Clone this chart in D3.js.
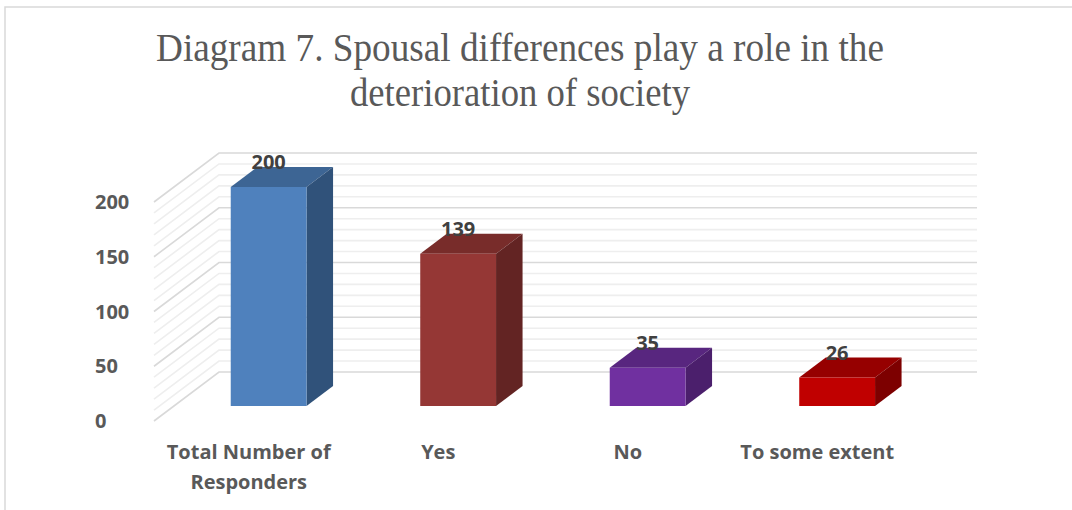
<!DOCTYPE html>
<html>
<head>
<meta charset="utf-8">
<script src="https://cdn.jsdelivr.net/npm/d3@7"></script>
<style>
  html, body { margin: 0; padding: 0; background: #ffffff; }
  svg { display: block; }
</style>
</head>
<body>
<svg id="chart" width="1072" height="510"></svg>
<script>
// Survey answers: does spousal difference play a role in the deterioration of society?
const categories = ["Total Number of Responders", "Yes", "No", "To some extent"];
const categoryLines = [["Total Number of", "Responders"], ["Yes"], ["No"], ["To some extent"]];
const values = [200, 139, 35, 26];
const yTicks = [0, 50, 100, 150, 200];
const minorStep = 10;
const frontColors = ["#4f81bd", "#953735", "#7030a0", "#c00000"];
const topColors   = ["#3d6594", "#782c2a", "#58267f", "#960000"];
const sideColors  = ["#30527a", "#632423", "#4b1f6c", "#7d0000"];
const titleLines = ["Diagram 7. Spousal differences play a role in the", "deterioration of society"];
const titleWidths = [728, 340];

const svg = d3.select("#chart");
const sans = "'Open Sans', Lato, sans-serif";

// Oblique 3D projection: x on the front plane, value, depth t in [0,1]
const depthDX = 65, depthDY = -49;
const x = d3.scaleBand().domain(categories).range([154, 912]).paddingInner(0.6).paddingOuter(0.3);
const y = d3.scaleLinear().domain([0, 200]).range([421, 202]);
const proj = (px, v, t) => [px + depthDX * t, y(v) + depthDY * t];

// Outer frame
svg.append("path").attr("d", "M5,510 V7 H1072")
  .attr("fill", "none").attr("stroke", "#d9d9d9").attr("stroke-width", 1.5);

// Title (tall, narrow serif)
svg.append("g").selectAll("text").data(titleLines).join("text")
  .attr("x", 520).attr("y", (d, i) => 61 + i * 45)
  .attr("text-anchor", "middle")
  .attr("font-family", "'Liberation Serif', 'Times New Roman', serif")
  .attr("font-size", 39)
  .attr("fill", "#595959")
  .attr("textLength", (d, i) => titleWidths[i])
  .attr("lengthAdjust", "spacingAndGlyphs")
  .text(d => d);

// Gridlines on the back wall and the left side wall
const gridVals = d3.range(0, 200 + minorStep, minorStep);
const isMajor = v => v % 50 === 0;
const grid = svg.append("g");
const x0 = x.range()[0], x1 = x.range()[1];
gridVals.filter(v => !isMajor(v)).concat(gridVals.filter(isMajor)).forEach(v => {
  const col = isMajor(v) ? "#d9d9d9" : "#eeeeee";
  const [bx0, by] = proj(x0, v, 1);
  const [bx1] = proj(x1, v, 1);
  const [fx, fy] = proj(x0, v, 0);
  grid.append("path")
    .attr("d", `M${fx},${fy} L${bx0},${by} L${bx1},${by}`)
    .attr("fill", "none").attr("stroke", col).attr("stroke-width", 1.6);
});

// Y axis labels on the front plane
svg.append("g").selectAll("text").data(yTicks).join("text")
  .attr("x", 95).attr("y", d => y(d)).attr("dy", "0.36em")
  .attr("font-family", sans)
  .attr("font-weight", "bold").attr("font-size", 20)
  .attr("fill", "#595959")
  .text(d => d);

// Bars as boxes
const tFront = 0.306, tBack = 0.714;
const bars = svg.append("g");
categories.forEach((c, i) => {
  const v = values[i];
  const L = x(c), R = x(c) + x.bandwidth();
  const pt = (px, val, t) => proj(px, val, t).join(",");
  // top face
  bars.append("polygon")
    .attr("points", [pt(L, v, tFront), pt(R, v, tFront), pt(R, v, tBack), pt(L, v, tBack)].join(" "))
    .attr("fill", topColors[i]);
  // side face
  bars.append("polygon")
    .attr("points", [pt(R, 0, tFront), pt(R, v, tFront), pt(R, v, tBack), pt(R, 0, tBack)].join(" "))
    .attr("fill", sideColors[i]);
  // front face
  bars.append("polygon")
    .attr("points", [pt(L, 0, tFront), pt(R, 0, tFront), pt(R, v, tFront), pt(L, v, tFront)].join(" "))
    .attr("fill", frontColors[i]);
  // value label
  const [lx] = proj((L + R) / 2, v, tFront);
  const [, ly] = proj(L, v, tBack);
  bars.append("text")
    .attr("x", lx).attr("y", ly + 2)
    .attr("text-anchor", "middle")
    .attr("font-family", sans)
    .attr("font-weight", "bold").attr("font-size", 20)
    .attr("fill", "#404040")
    .text(v);
});

// Category labels on the front plane
const catG = svg.append("g");
categories.forEach((c, i) => {
  const cx = x(c) + x.bandwidth() / 2;
  catG.append("text")
    .attr("text-anchor", "middle")
    .attr("font-family", sans)
    .attr("font-weight", "bold").attr("font-size", 20)
    .attr("fill", "#595959")
    .selectAll("tspan").data(categoryLines[i]).join("tspan")
    .attr("x", cx).attr("y", (d, k) => 459 + k * 30)
    .text(d => d);
});
</script>
</body>
</html>
